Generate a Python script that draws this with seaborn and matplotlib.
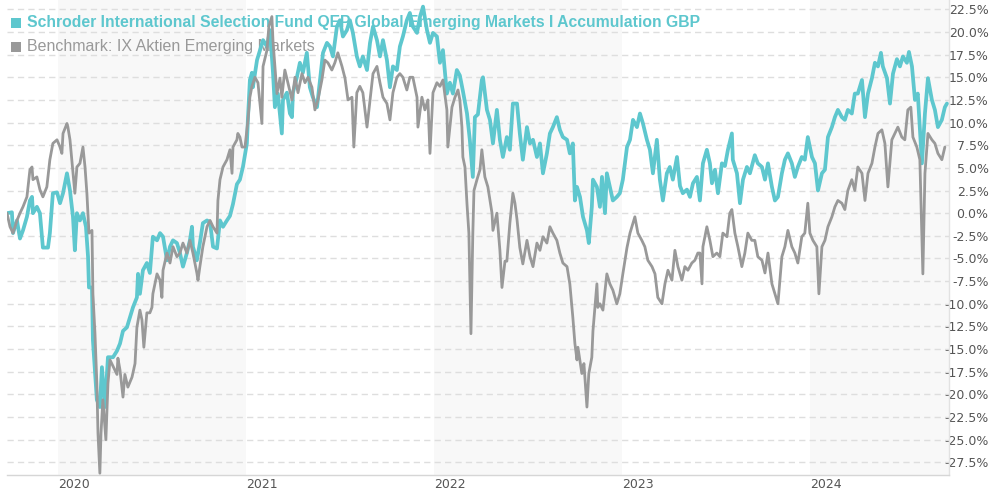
import numpy as np
import pandas as pd
import matplotlib
matplotlib.use("Agg")
import matplotlib.pyplot as plt
from matplotlib.patches import Rectangle
import seaborn as sns

# ---------------- data (time in decimal years, values in %) ----------------
fund_name = "Schroder International Selection Fund QEP Global Emerging Markets I Accumulation GBP"
bench_name = "Benchmark: IX Aktien Emerging Markets"

fund_t = [2019.729, 2019.755, 2019.761, 2019.782, 2019.798, 2019.814, 2019.835, 2019.851, 2019.862, 2019.867,
          2019.888, 2019.904, 2019.920, 2019.947, 2019.957, 2019.973, 2019.995, 2020.011, 2020.027, 2020.048,
          2020.064, 2020.080, 2020.090, 2020.101, 2020.117, 2020.133, 2020.149, 2020.160, 2020.165, 2020.181,
          2020.186, 2020.207, 2020.223, 2020.234, 2020.250, 2020.266, 2020.293, 2020.314, 2020.330, 2020.346,
          2020.367, 2020.383, 2020.399, 2020.420, 2020.426, 2020.436, 2020.452, 2020.473, 2020.489, 2020.505,
          2020.527, 2020.543, 2020.559, 2020.580, 2020.596, 2020.612, 2020.633, 2020.649, 2020.665, 2020.686,
          2020.702, 2020.713, 2020.718, 2020.739, 2020.755, 2020.771, 2020.793, 2020.809, 2020.825, 2020.846,
          2020.862, 2020.878, 2020.899, 2020.915, 2020.931, 2020.952, 2020.968, 2020.984, 2021.005, 2021.011,
          2021.021, 2021.032, 2021.037, 2021.059, 2021.075, 2021.091, 2021.112, 2021.128, 2021.144, 2021.154,
          2021.170, 2021.191, 2021.197, 2021.218, 2021.234, 2021.245, 2021.250, 2021.271, 2021.287, 2021.303,
          2021.324, 2021.340, 2021.356, 2021.378, 2021.394, 2021.410, 2021.431, 2021.447, 2021.463, 2021.484,
          2021.500, 2021.516, 2021.537, 2021.553, 2021.569, 2021.590, 2021.606, 2021.622, 2021.644, 2021.660,
          2021.676, 2021.697, 2021.713, 2021.729, 2021.750, 2021.766, 2021.782, 2021.803, 2021.819, 2021.835,
          2021.856, 2021.872, 2021.888, 2021.910, 2021.926, 2021.942, 2021.963, 2021.979, 2021.995, 2022.016,
          2022.032, 2022.048, 2022.069, 2022.085, 2022.101, 2022.122, 2022.138, 2022.154, 2022.176, 2022.191,
          2022.207, 2022.218, 2022.234, 2022.255, 2022.261, 2022.282, 2022.298, 2022.314, 2022.335, 2022.351,
          2022.367, 2022.388, 2022.404, 2022.420, 2022.442, 2022.457, 2022.473, 2022.495, 2022.511, 2022.527,
          2022.548, 2022.564, 2022.580, 2022.601, 2022.617, 2022.633, 2022.654, 2022.670, 2022.686, 2022.708,
          2022.723, 2022.739, 2022.750, 2022.761, 2022.777, 2022.793, 2022.814, 2022.824, 2022.840, 2022.846,
          2022.867, 2022.883, 2022.894, 2022.910, 2022.920, 2022.936, 2022.952, 2022.973, 2022.989, 2023.005,
          2023.027, 2023.043, 2023.059, 2023.080, 2023.096, 2023.112, 2023.133, 2023.149, 2023.165, 2023.186,
          2023.202, 2023.218, 2023.239, 2023.255, 2023.271, 2023.293, 2023.309, 2023.324, 2023.346, 2023.362,
          2023.378, 2023.399, 2023.415, 2023.431, 2023.452, 2023.468, 2023.479, 2023.495, 2023.511, 2023.532,
          2023.548, 2023.564, 2023.585, 2023.590, 2023.612, 2023.628, 2023.644, 2023.665, 2023.681, 2023.707,
          2023.723, 2023.745, 2023.761, 2023.777, 2023.798, 2023.814, 2023.830, 2023.851, 2023.867, 2023.883,
          2023.904, 2023.920, 2023.936, 2023.957, 2023.973, 2023.989, 2024.011, 2024.027, 2024.043, 2024.064,
          2024.080, 2024.096, 2024.117, 2024.133, 2024.149, 2024.170, 2024.186, 2024.202, 2024.223, 2024.239,
          2024.255, 2024.277, 2024.293, 2024.309, 2024.330, 2024.346, 2024.362, 2024.378, 2024.388, 2024.410,
          2024.426, 2024.442, 2024.463, 2024.479, 2024.495, 2024.516, 2024.527, 2024.543, 2024.559, 2024.574,
          2024.596, 2024.612, 2024.628, 2024.649, 2024.665, 2024.681, 2024.702, 2024.718, 2024.729]

fund_v = [0.0, 0.1, -2.2, -0.8, -2.8, -1.9, -0.4, 1.4, 1.8, 0.0,
          0.7, 0.0, -3.8, -3.8, -2.2, 2.2, 2.3, 1.1, 2.2, 4.4,
          2.5, -0.4, -4.1, 0.0, -0.8, 0.0, -1.5, -4.8, -8.2, -8.2,
          -14.0, -20.6, -21.4, -17.0, -21.4, -15.9, -15.9, -15.2, -14.4, -13.0,
          -12.6, -11.5, -10.4, -9.3, -6.7, -8.9, -6.3, -5.5, -6.6, -2.6,
          -3.0, -2.2, -2.6, -5.2, -3.7, -3.0, -3.3, -4.4, -5.9, -4.4,
          -3.0, -1.5, -3.7, -5.2, -3.3, -1.1, -0.8, -1.0, -3.7, -3.9,
          -0.8, -1.5, -0.8, -0.3, 1.0, 3.2, 3.7, 5.1, 7.7, 10.6,
          14.7, 15.5, 13.9, 16.9, 18.0, 19.1, 18.4, 20.2, 15.5, 11.7,
          13.2, 8.8, 12.5, 13.3, 11.0, 10.6, 13.3, 15.0, 16.6, 15.5,
          17.7, 13.9, 12.8, 11.7, 14.7, 17.7, 18.8, 18.4, 17.3, 20.6,
          21.3, 19.5, 20.2, 21.3, 19.9, 17.3, 16.2, 17.3, 15.8, 18.8,
          20.6, 19.1, 17.3, 19.1, 16.9, 13.9, 16.2, 15.8, 18.4, 19.5,
          21.3, 22.1, 20.6, 19.9, 21.7, 22.8, 20.2, 18.8, 19.9, 19.5,
          16.6, 18.0, 13.2, 14.4, 13.2, 15.8, 15.2, 13.5, 11.0, 8.1,
          4.0, 10.6, 10.9, 14.7, 15.0, 11.4, 10.3, 7.7, 11.4, 8.1,
          6.2, 8.4, 7.0, 12.1, 12.1, 8.8, 5.9, 9.5, 7.7, 8.1,
          6.2, 7.7, 4.4, 6.6, 8.8, 9.5, 10.6, 9.2, 8.4, 8.1,
          6.6, 7.7, 1.4, 2.9, 1.8, -0.4, -1.9, -3.3, 0.7, 3.7,
          2.9, 0.7, 4.0, 0.0, 4.4, 2.9, 1.4, 1.8, 2.2, 3.7,
          7.3, 8.1, 10.3, 9.5, 11.0, 9.9, 8.1, 7.0, 4.4, 8.1,
          3.7, 1.4, 4.4, 5.1, 3.7, 6.2, 3.0, 2.2, 2.6, 1.8,
          3.3, 4.0, 1.4, 5.5, 7.0, 5.5, 3.3, 4.8, 2.2, 5.5,
          5.2, 7.0, 8.8, 5.9, 4.4, 1.1, 3.7, 5.1, 4.4, 6.4,
          5.5, 5.1, 3.7, 5.5, 2.9, 1.4, 1.8, 4.4, 5.9, 6.6,
          5.5, 4.0, 5.1, 6.2, 5.9, 8.4, 6.2, 5.5, 2.5, 4.4,
          4.8, 8.4, 9.5, 10.6, 11.4, 10.6, 10.3, 11.4, 11.0, 13.2,
          13.2, 14.7, 10.6, 13.2, 14.9, 16.6, 16.2, 17.7, 16.2, 14.9,
          12.1, 15.4, 17.0, 16.2, 17.3, 16.6, 17.8, 16.2, 12.5, 13.2,
          5.5, 11.0, 14.9, 12.5, 11.4, 9.5, 10.3, 11.7, 12.1]

bench_t = [2019.729, 2019.745, 2019.761, 2019.782, 2019.798, 2019.814, 2019.835, 2019.851, 2019.862, 2019.867,
           2019.888, 2019.904, 2019.920, 2019.941, 2019.957, 2019.973, 2019.995, 2020.011, 2020.021, 2020.027,
           2020.048, 2020.053, 2020.064, 2020.080, 2020.090, 2020.101, 2020.117, 2020.133, 2020.144, 2020.154,
           2020.165, 2020.181, 2020.186, 2020.197, 2020.207, 2020.213, 2020.223, 2020.229, 2020.239, 2020.255,
           2020.266, 2020.277, 2020.293, 2020.314, 2020.319, 2020.330, 2020.346, 2020.356, 2020.372, 2020.394,
           2020.410, 2020.420, 2020.436, 2020.447, 2020.457, 2020.473, 2020.489, 2020.500, 2020.505, 2020.527,
           2020.543, 2020.553, 2020.559, 2020.580, 2020.596, 2020.612, 2020.633, 2020.649, 2020.665, 2020.686,
           2020.702, 2020.718, 2020.739, 2020.745, 2020.755, 2020.771, 2020.793, 2020.809, 2020.825, 2020.846,
           2020.851, 2020.862, 2020.878, 2020.899, 2020.915, 2020.926, 2020.931, 2020.952, 2020.957, 2020.968,
           2020.979, 2020.995, 2021.011, 2021.021, 2021.032, 2021.048, 2021.064, 2021.085, 2021.091, 2021.112,
           2021.122, 2021.138, 2021.144, 2021.165, 2021.181, 2021.191, 2021.207, 2021.223, 2021.245, 2021.261,
           2021.277, 2021.298, 2021.314, 2021.330, 2021.351, 2021.367, 2021.383, 2021.404, 2021.420, 2021.436,
           2021.457, 2021.473, 2021.489, 2021.511, 2021.527, 2021.543, 2021.564, 2021.574, 2021.590, 2021.606,
           2021.622, 2021.644, 2021.660, 2021.676, 2021.697, 2021.713, 2021.729, 2021.750, 2021.766, 2021.782,
           2021.803, 2021.819, 2021.835, 2021.856, 2021.872, 2021.888, 2021.910, 2021.915, 2021.936, 2021.952,
           2021.968, 2021.979, 2021.995, 2022.016, 2022.032, 2022.048, 2022.069, 2022.074, 2022.096, 2022.112,
           2022.128, 2022.138, 2022.149, 2022.154, 2022.165, 2022.176, 2022.186, 2022.197, 2022.207, 2022.213,
           2022.229, 2022.245, 2022.255, 2022.271, 2022.287, 2022.309, 2022.314, 2022.335, 2022.351, 2022.362,
           2022.378, 2022.388, 2022.404, 2022.420, 2022.431, 2022.442, 2022.457, 2022.473, 2022.495, 2022.511,
           2022.527, 2022.548, 2022.564, 2022.580, 2022.601, 2022.617, 2022.633, 2022.654, 2022.670, 2022.686,
           2022.708, 2022.723, 2022.739, 2022.750, 2022.761, 2022.766, 2022.787, 2022.798, 2022.814, 2022.824,
           2022.840, 2022.846, 2022.867, 2022.872, 2022.883, 2022.899, 2022.920, 2022.936, 2022.952, 2022.973,
           2022.989, 2023.005, 2023.027, 2023.043, 2023.059, 2023.069, 2023.085, 2023.106, 2023.122, 2023.138,
           2023.160, 2023.176, 2023.191, 2023.213, 2023.229, 2023.245, 2023.266, 2023.282, 2023.298, 2023.319,
           2023.335, 2023.351, 2023.372, 2023.388, 2023.404, 2023.415, 2023.426, 2023.431, 2023.452, 2023.468,
           2023.484, 2023.505, 2023.521, 2023.537, 2023.559, 2023.574, 2023.585, 2023.601, 2023.617, 2023.638,
           2023.654, 2023.670, 2023.691, 2023.707, 2023.723, 2023.745, 2023.761, 2023.777, 2023.798, 2023.814,
           2023.830, 2023.851, 2023.867, 2023.883, 2023.904, 2023.920, 2023.936, 2023.957, 2023.973, 2023.989,
           2024.000, 2024.016, 2024.037, 2024.048, 2024.064, 2024.080, 2024.096, 2024.117, 2024.133, 2024.149,
           2024.170, 2024.186, 2024.202, 2024.223, 2024.239, 2024.255, 2024.277, 2024.293, 2024.309, 2024.330,
           2024.346, 2024.362, 2024.383, 2024.399, 2024.415, 2024.436, 2024.452, 2024.468, 2024.489, 2024.505,
           2024.521, 2024.537, 2024.548, 2024.569, 2024.585, 2024.601, 2024.612, 2024.628, 2024.649, 2024.665,
           2024.681, 2024.702, 2024.718]

bench_v = [0.0, -1.5, -2.2, -0.8, 0.0, 0.7, 1.8, 4.8, 5.1, 3.7,
           4.0, 2.6, 1.8, 2.9, 5.9, 7.7, 8.1, 7.3, 6.6, 8.8,
           9.9, 9.5, 8.1, 4.4, 2.2, 5.1, 5.5, 7.3, 5.1, 2.2,
           -2.2, -1.9, -8.9, -13.3, -18.8, -24.3, -28.7, -24.3, -20.6, -25.0,
           -18.8, -16.2, -16.9, -17.8, -16.0, -17.3, -20.3, -17.8, -19.2, -18.1,
           -16.6, -12.6, -10.7, -11.8, -14.8, -11.0, -11.0, -10.4, -8.9, -6.7,
           -7.4, -9.3, -6.3, -4.4, -5.5, -3.7, -4.8, -4.4, -3.3, -4.4,
           -3.0, -4.4, -6.6, -7.4, -5.9, -3.7, -1.5, -0.8, -1.5, -2.2,
           1.4, 3.7, 5.1, 5.9, 7.0, 4.4, 7.3, 8.1, 8.8, 8.4,
           7.3, 7.3, 10.3, 12.8, 14.0, 15.0, 14.4, 9.9, 16.2, 18.0,
           20.6, 21.7, 19.0, 13.2, 14.9, 12.8, 15.8, 14.4, 12.5, 15.0,
           13.3, 15.4, 14.4, 15.0, 13.9, 11.4, 12.5, 14.7, 16.9, 16.6,
           15.8, 16.6, 17.7, 16.2, 14.9, 12.5, 12.8, 7.3, 13.3, 14.0,
           13.3, 9.5, 12.5, 15.4, 16.2, 14.4, 12.8, 12.1, 10.3, 13.3,
           15.0, 15.4, 15.0, 13.6, 15.0, 15.0, 12.8, 9.5, 12.8, 11.4,
           12.5, 6.6, 13.3, 14.4, 14.0, 14.7, 11.4, 7.3, 11.7, 12.8,
           13.6, 12.5, 9.5, 6.2, 5.1, 1.0, -2.2, -13.3, -2.2, 2.5,
           3.7, 4.8, 7.0, 4.0, 2.9, 0.0, -1.9, 0.0, -4.1, -8.2,
           -5.3, -5.3, -1.1, 2.2, 1.1, -0.7, -3.8, -5.6, -3.0, -4.8,
           -5.9, -3.3, -4.1, -2.6, -3.3, -1.5, -2.2, -3.0, -4.4, -5.5,
           -5.9, -7.8, -11.5, -14.4, -16.2, -14.8, -17.7, -16.6, -21.4, -17.7,
           -15.9, -13.0, -7.8, -10.4, -10.0, -10.7, -6.7, -7.8, -8.5, -10.0,
           -8.9, -6.7, -3.8, -2.2, -1.1, -0.4, -2.2, -3.0, -3.7, -5.2,
           -5.9, -6.7, -9.3, -10.0, -7.8, -6.3, -7.4, -4.1, -5.9, -7.4,
           -5.9, -6.3, -5.5, -5.2, -4.4, -4.4, -7.8, -3.7, -1.5, -3.0,
           -4.8, -4.4, -4.8, -2.2, -2.6, 0.0, 0.4, -2.2, -3.7, -5.9,
           -4.4, -2.2, -3.0, -3.0, -4.8, -5.2, -6.6, -4.4, -7.8, -8.9,
           -10.0, -4.8, -3.7, -1.9, -3.7, -4.4, -5.5, -2.6, -2.2, 1.1,
           -2.2, -3.0, -3.7, -8.9, -3.7, -3.0, -1.5, -0.4, 0.7, 1.4,
           1.1, 0.4, 2.5, 3.7, 2.5, 5.1, 4.4, 1.4, 4.4, 5.5,
           7.3, 8.8, 9.2, 7.7, 2.9, 8.1, 8.8, 9.5, 8.4, 8.1,
           11.4, 11.7, 8.4, 7.3, 5.9, -6.7, 4.4, 8.8, 8.1, 7.7,
           6.6, 5.9, 7.3]

year_ticks = [2020, 2021, 2022, 2023, 2024]
shaded_years = [2020, 2022, 2024]
y_ticks = [22.5, 20.0, 17.5, 15.0, 12.5, 10.0, 7.5, 5.0, 2.5, 0.0, -2.5, -5.0, -7.5,
           -10.0, -12.5, -15.0, -17.5, -20.0, -22.5, -25.0, -27.5]

assert len(fund_t) == len(fund_v), (len(fund_t), len(fund_v))
assert len(bench_t) == len(bench_v), (len(bench_t), len(bench_v))

FUND_COLOR = "#5ec7ce"
BENCH_COLOR = "#999999"


def to_dt(years):
    y = np.asarray(years, dtype=float)
    return pd.Timestamp("2020-01-01") + pd.to_timedelta((y - 2020.0) * 365.25, unit="D")


fund_df = pd.DataFrame({"date": to_dt(fund_t), "value": fund_v})
bench_df = pd.DataFrame({"date": to_dt(bench_t), "value": bench_v})

# ---------------- figure ----------------
sns.set_style("white")
plt.rcParams["font.family"] = ["DejaVu Sans"]

W, H = 990, 494
fig = plt.figure(figsize=(W / 100, H / 100), dpi=100)
ax = fig.add_axes([7 / W, 1 - 475 / H, (949 - 7) / W, 475 / H])

# alternating year bands
for y in shaded_years:
    ax.axvspan(pd.Timestamp(f"{y}-01-01"), pd.Timestamp(f"{y + 1}-01-01"),
               color="#f8f8f8", lw=0, zorder=0)

# dashed horizontal grid
for v in y_ticks:
    ax.axhline(v, color="#dedede", lw=1.0, ls=(0, (4.5, 3.0)), zorder=1)

sns.lineplot(data=fund_df, x="date", y="value", ax=ax, color=FUND_COLOR,
             lw=2.7, zorder=3, sort=False)
sns.lineplot(data=bench_df, x="date", y="value", ax=ax, color=BENCH_COLOR,
             lw=2.0, zorder=4, sort=False)

ax.set_xlim(to_dt([2019.729])[0], to_dt([2024.740])[0])
ax.set_ylim(-28.9, 23.53)
ax.set_xlabel("")
ax.set_ylabel("")

# spines
for s in ["left", "top"]:
    ax.spines[s].set_visible(False)
ax.spines["bottom"].set_color("#d6d6d6")
ax.spines["bottom"].set_linewidth(1.0)
ax.spines["right"].set_color("#e2e2e2")
ax.spines["right"].set_linewidth(1.0)

# y axis on the right
ax.yaxis.tick_right()
ax.set_yticks(y_ticks)
ax.set_yticklabels([f"{v:.1f}%" for v in y_ticks])
ax.tick_params(axis="y", length=0, pad=28.5, labelsize=9, labelcolor="#555555")
for lab in ax.get_yticklabels():
    lab.set_horizontalalignment("right")

# x axis years
ax.set_xticks([pd.Timestamp(f"{y}-01-01") for y in year_ticks])
ax.set_xticklabels([str(y) for y in year_ticks])
ax.tick_params(axis="x", length=0, pad=2.5, labelsize=9, labelcolor="#555555")
for lab in ax.get_xticklabels():
    lab.set_horizontalalignment("left")

# legend-like header (drawn beneath the lines)
tf = fig.transFigure
ax.add_patch(Rectangle((11 / W, 1 - 28 / H), 10 / W, 10 / H, transform=tf,
                       color=FUND_COLOR, lw=0, zorder=2, clip_on=False))
ax.add_patch(Rectangle((11 / W, 1 - 52 / H), 10 / W, 10 / H, transform=tf,
                       color=BENCH_COLOR, lw=0, zorder=2, clip_on=False))
ax.text(27 / W, 1 - 23 / H, fund_name, transform=tf, color=FUND_COLOR,
        fontsize=11.35, fontweight="bold", family=["Liberation Sans", "DejaVu Sans"],
        va="center", ha="left", zorder=2)
ax.text(27 / W, 1 - 47 / H, bench_name, transform=tf, color=BENCH_COLOR,
        fontsize=11.5, family=["Liberation Sans", "DejaVu Sans"],
        va="center", ha="left", zorder=2)

fig.savefig("out.png", dpi=100)
